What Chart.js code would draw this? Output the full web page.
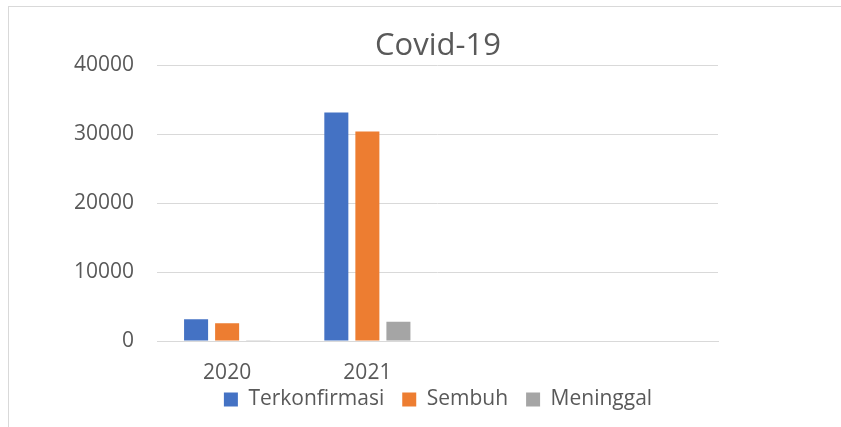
<!DOCTYPE html>
<html>
<head>
<meta charset="utf-8">
<script src="https://cdn.jsdelivr.net/npm/chart.js@4/dist/chart.umd.min.js"></script>
<style>
    html, body { margin: 0; padding: 0; background: #fff; overflow: hidden; }
    #frame {
        position: absolute;
        left: 8px;
        top: 6px;
        width: 858px;
        height: 430px;
        border-left: 1px solid #d9d9d9;
        border-top: 1px solid #d9d9d9;
    }
</style>
</head>
<body>
<div id="frame"><canvas id="covidChart" width="858" height="413"></canvas></div>
<script>
const years = ['2020', '2021', '', ''];
const terkonfirmasi = [3150, 33150, null, null];
const sembuh = [2560, 30400, null, null];
const meninggal = [100, 2800, null, null];
const yTicks = [0, 10000, 20000, 30000, 40000];

const textColor = '#595959';
const gridColor = '#d9d9d9';

new Chart(document.getElementById('covidChart'), {
    type: 'bar',
    data: {
        labels: years,
        datasets: [{
            label: 'Terkonfirmasi',
            data: terkonfirmasi,
            backgroundColor: '#4472C4'
        }, {
            label: 'Sembuh',
            data: sembuh,
            backgroundColor: '#ED7D31'
        }, {
            label: 'Meninggal',
            data: meninggal,
            backgroundColor: '#A5A5A5'
        }]
    },
    options: {
        responsive: false,
        animation: false,
        categoryPercentage: 0.664,
        barPercentage: 0.774,
        layout: {
            padding: 0
        },
        scales: {
            x: {
                grid: { display: false },
                border: { color: gridColor, width: 1 },
                ticks: {
                    color: textColor,
                    padding: 11,
                    font: { family: 'Open Sans', size: 21 }
                },
                afterFit: scale => {
                    scale.height = 30;
                    // labels hang below the axis box, don't clip them
                    scale._computeLabelArea = () => undefined;
                }
            },
            y: {
                min: 0,
                max: 40000,
                afterBuildTicks: scale => { scale.ticks = yTicks.map(v => ({ value: v })); },
                grid: { color: gridColor, lineWidth: 1, drawTicks: false },
                border: { display: false },
                ticks: {
                    color: textColor,
                    padding: 23,
                    callback: value => String(value),
                    font: { family: 'Open Sans', size: 21 }
                },
                afterFit: scale => { scale.width = 148; }
            },
            // empty space on the right side of the plot
            spacer: {
                type: 'linear',
                position: 'right',
                grid: { display: false },
                border: { display: false },
                ticks: { display: false },
                afterFit: scale => { scale.width = 149; }
            }
        },
        plugins: {
            title: {
                display: true,
                text: 'Covid-19',
                color: textColor,
                font: { family: 'Open Sans', size: 31, weight: 'normal', lineHeight: 1.2 },
                padding: { top: 21, bottom: 0 }
            },
            legend: {
                position: 'bottom',
                labels: {
                    color: textColor,
                    boxWidth: 14,
                    boxHeight: 14,
                    padding: 18,
                    font: { family: 'Open Sans', size: 21 }
                }
            },
            tooltip: { enabled: false }
        }
    }
});
</script>
</body>
</html>
